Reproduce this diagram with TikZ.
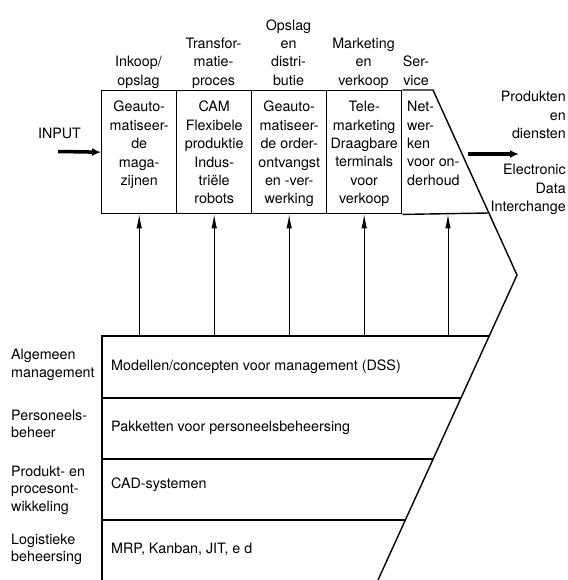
\documentclass[tikz,border=0pt]{standalone}
\usepackage{fontspec}
\setmainfont{TeX Gyre Heros}
\usepackage{tikz}
\usetikzlibrary{arrows.meta}
\tikzstyle{txt} = [inner sep=0pt, font=\fontsize{14.3}{18.4}\selectfont, execute at begin node=\strut, execute at end node=\strut]
\tikzstyle{head} = [txt, anchor=south, align=center]
\tikzstyle{celltxt} = [txt, anchor=north, align=center]
\tikzstyle{cell} = [draw, line width=1.4pt, anchor=north west, minimum width=75pt, minimum height=123pt, inner sep=0pt]
\tikzstyle{sidetxt} = [txt, anchor=west, align=left, font=\fontsize{14.3}{17.5}\selectfont]
\tikzstyle{rowtxt} = [txt, anchor=west]
\tikzstyle{frame} = [line width=1.4pt]
\tikzstyle{uparrow} = [line width=0.9pt, -{Latex[length=14pt,width=5.5pt]}]
\tikzstyle{bigarrow} = [line width=3.5pt, -{Latex[length=9pt,width=8pt]}]

\begin{document}
\begin{tikzpicture}[x=1pt, y=-1pt]
    \useasboundingbox (0,0) rectangle (567,580);
    % chain of activities
    \draw (101,90) node[cell] (c1) {};
    \draw (176,90) node[cell] (c2) {};
    \draw (251,90) node[cell] (c3) {};
    \draw (326,90) node[cell] (c4) {};
    \draw[frame] (c4.north east) -- (433,90) -- (517,275) -- (378,580);
    \draw[frame] (c4.south east) -- (488.8,213);
    \draw (138.5,91) node[head] (h1) {Inkoop/\\opslag};
    \draw (213.5,91) node[head] (h2) {Transfor-\\matie-\\proces};
    \draw (288.5,91) node[head] (h3) {Opslag\\en\\distri-\\butie};
    \draw (363.5,91) node[head] (h4) {Marketing\\en\\verkoop};
    \draw (416,91) node[head] (h5) {Ser-\\vice};
    \draw (c1.north |- 0,101) node[celltxt] (t1) {Geauto-\\matiseer-\\de\\maga-\\zijnen};
    \draw (c2.north |- 0,101) node[celltxt] (t2) {CAM\\Flexibele\\produktie\\Indus-\\triële\\robots};
    \draw (c3.north |- 0,101) node[celltxt] (t3) {Geauto-\\matiseer-\\de order-\\ontvangst\\en -ver-\\werking};
    \draw (c4.north |- 0,101) node[celltxt] (t4) {Tele-\\marketing\\Draagbare\\terminals\\voor\\verkoop};
    \draw (407,101) node[celltxt, anchor=north west, align=left] (t5) {Net-\\wer-\\ken\\voor on-\\derhoud};
    % input and output
    \draw (59.5,135) node[txt] (input) {INPUT};
    \coordinate (in) at (58,151.5);
    \draw[bigarrow] (in) -- (c1.west);
    \coordinate (outa) at (468,154);
    \coordinate (outb) at (519,154);
    \draw[bigarrow] (outa) -- (outb);
    \draw (566,91) node[txt, anchor=north east, align=right] (prod) {Produkten\\en\\diensten};
    \draw (566,164) node[txt, anchor=north east, align=right] (edi) {Electronic\\Data\\Interchange};
    % support activities
    \draw[frame] (489.2,336) -- (102,336) -- (102,580);
    \draw[frame] (102,398) -- (460.9,398);
    \draw[frame] (102,459) -- (433.1,459);
    \draw[frame] (102,520) -- (405.3,520);
    \coordinate (bt) at (102,336);
    \foreach \c in {c1,c2,c3,c4}
        \draw[uparrow] (\c.south |- bt) -- (\c.south);
    \coordinate (a5) at (448,336);
    \draw[uparrow] (a5) -- (a5 |- c4.south);
    \draw (11,366) node[sidetxt] (l1) {Algemeen\\management};
    \draw (11,426.5) node[sidetxt] (l2) {Personeels-\\beheer};
    \draw (11,491) node[sidetxt] (l3) {Produkt- en\\procesont-\\wikkeling};
    \draw (11,550.5) node[sidetxt] (l4) {Logistieke\\beheersing};
    \draw (111,367) node[rowtxt] (r1) {Modellen/concepten voor management (DSS)};
    \draw (111,428) node[rowtxt] (r2) {Pakketten voor personeelsbeheersing};
    \draw (111,485) node[rowtxt] (r3) {CAD-systemen};
    \draw (111,550) node[rowtxt] (r4) {MRP, Kanban, JIT, e d};
\end{tikzpicture}
\end{document}
